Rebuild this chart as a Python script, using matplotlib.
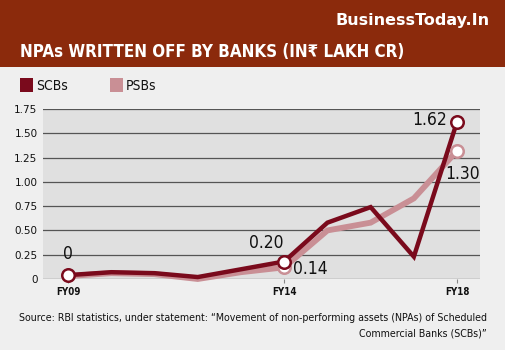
import numpy as np
import matplotlib.pyplot as plt
from matplotlib.patches import Rectangle

years = ['FY09', 'FY10', 'FY11', 'FY12', 'FY13', 'FY14', 'FY15', 'FY16', 'FY17', 'FY18']
scbs = [0.04, 0.07, 0.06, 0.02, 0.10, 0.18, 0.58, 0.74, 0.23, 1.62]
psbs = [0.03, 0.06, 0.05, 0.00, 0.07, 0.12, 0.50, 0.58, 0.83, 1.32]
tick_years = ['FY09', 'FY14', 'FY18']
yticks = [0, 0.25, 0.50, 0.75, 1.00, 1.25, 1.50, 1.75]
ytick_labels = ['0', '0.25', '0.50', '0.75', '1.00', '1.25', '1.50', '1.75']

scb_col = '#7a0a1c'
psb_col = '#c98f95'
header_col = '#8b2a0c'

fig = plt.figure(figsize=(5.05, 3.5), dpi=100)
fig.patch.set_facecolor('#efefef')

# header band
fig.patches.append(Rectangle((0, 1 - 67/350), 1, 67/350, transform=fig.transFigure,
                             facecolor=header_col, edgecolor='none', zorder=0))
fig.text(490/505, 1 - 20/350, 'BusinessToday.In', color='white', fontsize=11.5,
         fontweight='bold', ha='right', va='center')
fig.text(20/505, 1 - 52/350, 'NPAs WRITTEN OFF BY BANKS (IN\u20b9 LAKH CR)', color='white',
         fontsize=12.2, fontweight='bold', ha='left', va='center', fontstretch='condensed')

# legend
for x0, col, lab in [(20, scb_col, 'SCBs'), (110, psb_col, 'PSBs')]:
    fig.patches.append(Rectangle((x0/505, 1 - 92/350), 13/505, 14/350, transform=fig.transFigure,
                                 facecolor=col, edgecolor='none'))
    fig.text((x0 + 16)/505, 1 - 86/350, lab, fontsize=10, ha='left', va='center', color='#111111',
             fontstretch='condensed')

ax = fig.add_axes([43/505, 1 - 279/350, 437/505, 170/350])
ax.set_facecolor('#e0e0e0')
x = np.arange(len(years))

ax.plot(x, psbs, color=psb_col, lw=4.2, solid_joinstyle='miter', clip_on=False, zorder=3)
ax.plot(x, scbs, color=scb_col, lw=3.2, solid_joinstyle='miter', clip_on=False, zorder=4)

mk = dict(marker='o', ms=9, mfc='white', mew=1.8, ls='none', clip_on=False)
ax.plot([5, 9], [psbs[5], psbs[9]], mec=psb_col, zorder=5, **mk)
ax.plot([0, 5, 9], [scbs[0], scbs[5], scbs[9]], mec=scb_col, zorder=6, **mk)

lab = dict(fontsize=12.5, color='#111111', zorder=7, fontstretch='condensed')
ax.annotate('0', (0, scbs[0]), xytext=(0, 9), textcoords='offset points', ha='center', va='bottom', **lab)
ax.annotate('0.20', (5, scbs[5]), xytext=(-13, 7), textcoords='offset points', ha='center', va='bottom', **lab)
ax.annotate('0.14', (5, psbs[5]), xytext=(6, -1), textcoords='offset points', ha='left', va='center', **lab)
ax.annotate('1.62', (9, scbs[9]), xytext=(-7, 1), textcoords='offset points', ha='right', va='center', **lab)
ax.annotate('1.30', (9, psbs[9]), xytext=(4, -10), textcoords='offset points', ha='center', va='top', **lab)

ax.set_xlim(-0.58, 9.53)
ax.set_ylim(0, 1.75)
ax.set_yticks(yticks)
ax.set_yticklabels(ytick_labels, fontsize=7.5, color='#111111')
ax.grid(axis='y', color='#555555', lw=0.9)
ax.set_axisbelow(True)
ax.set_xticks([years.index(t) for t in tick_years])
ax.set_xticklabels(tick_years, fontsize=7, fontweight='bold', color='#111111', fontstretch='condensed')
ax.tick_params(axis='y', length=0, pad=4)
ax.tick_params(axis='x', length=3, color='#888888', pad=3)
for s in ax.spines.values():
    s.set_visible(False)

fig.text(487/505, 1 - 318/350, 'Source: RBI statistics, under statement: \u201cMovement of non-performing assets (NPAs) of Scheduled',
         fontsize=6.85, ha='right', va='center', color='#111111')
fig.text(487/505, 1 - 333/350, 'Commercial Banks (SCBs)\u201d', fontsize=6.85, ha='right', va='center', color='#111111')

fig.savefig('out.png', dpi=100, facecolor=fig.get_facecolor())
